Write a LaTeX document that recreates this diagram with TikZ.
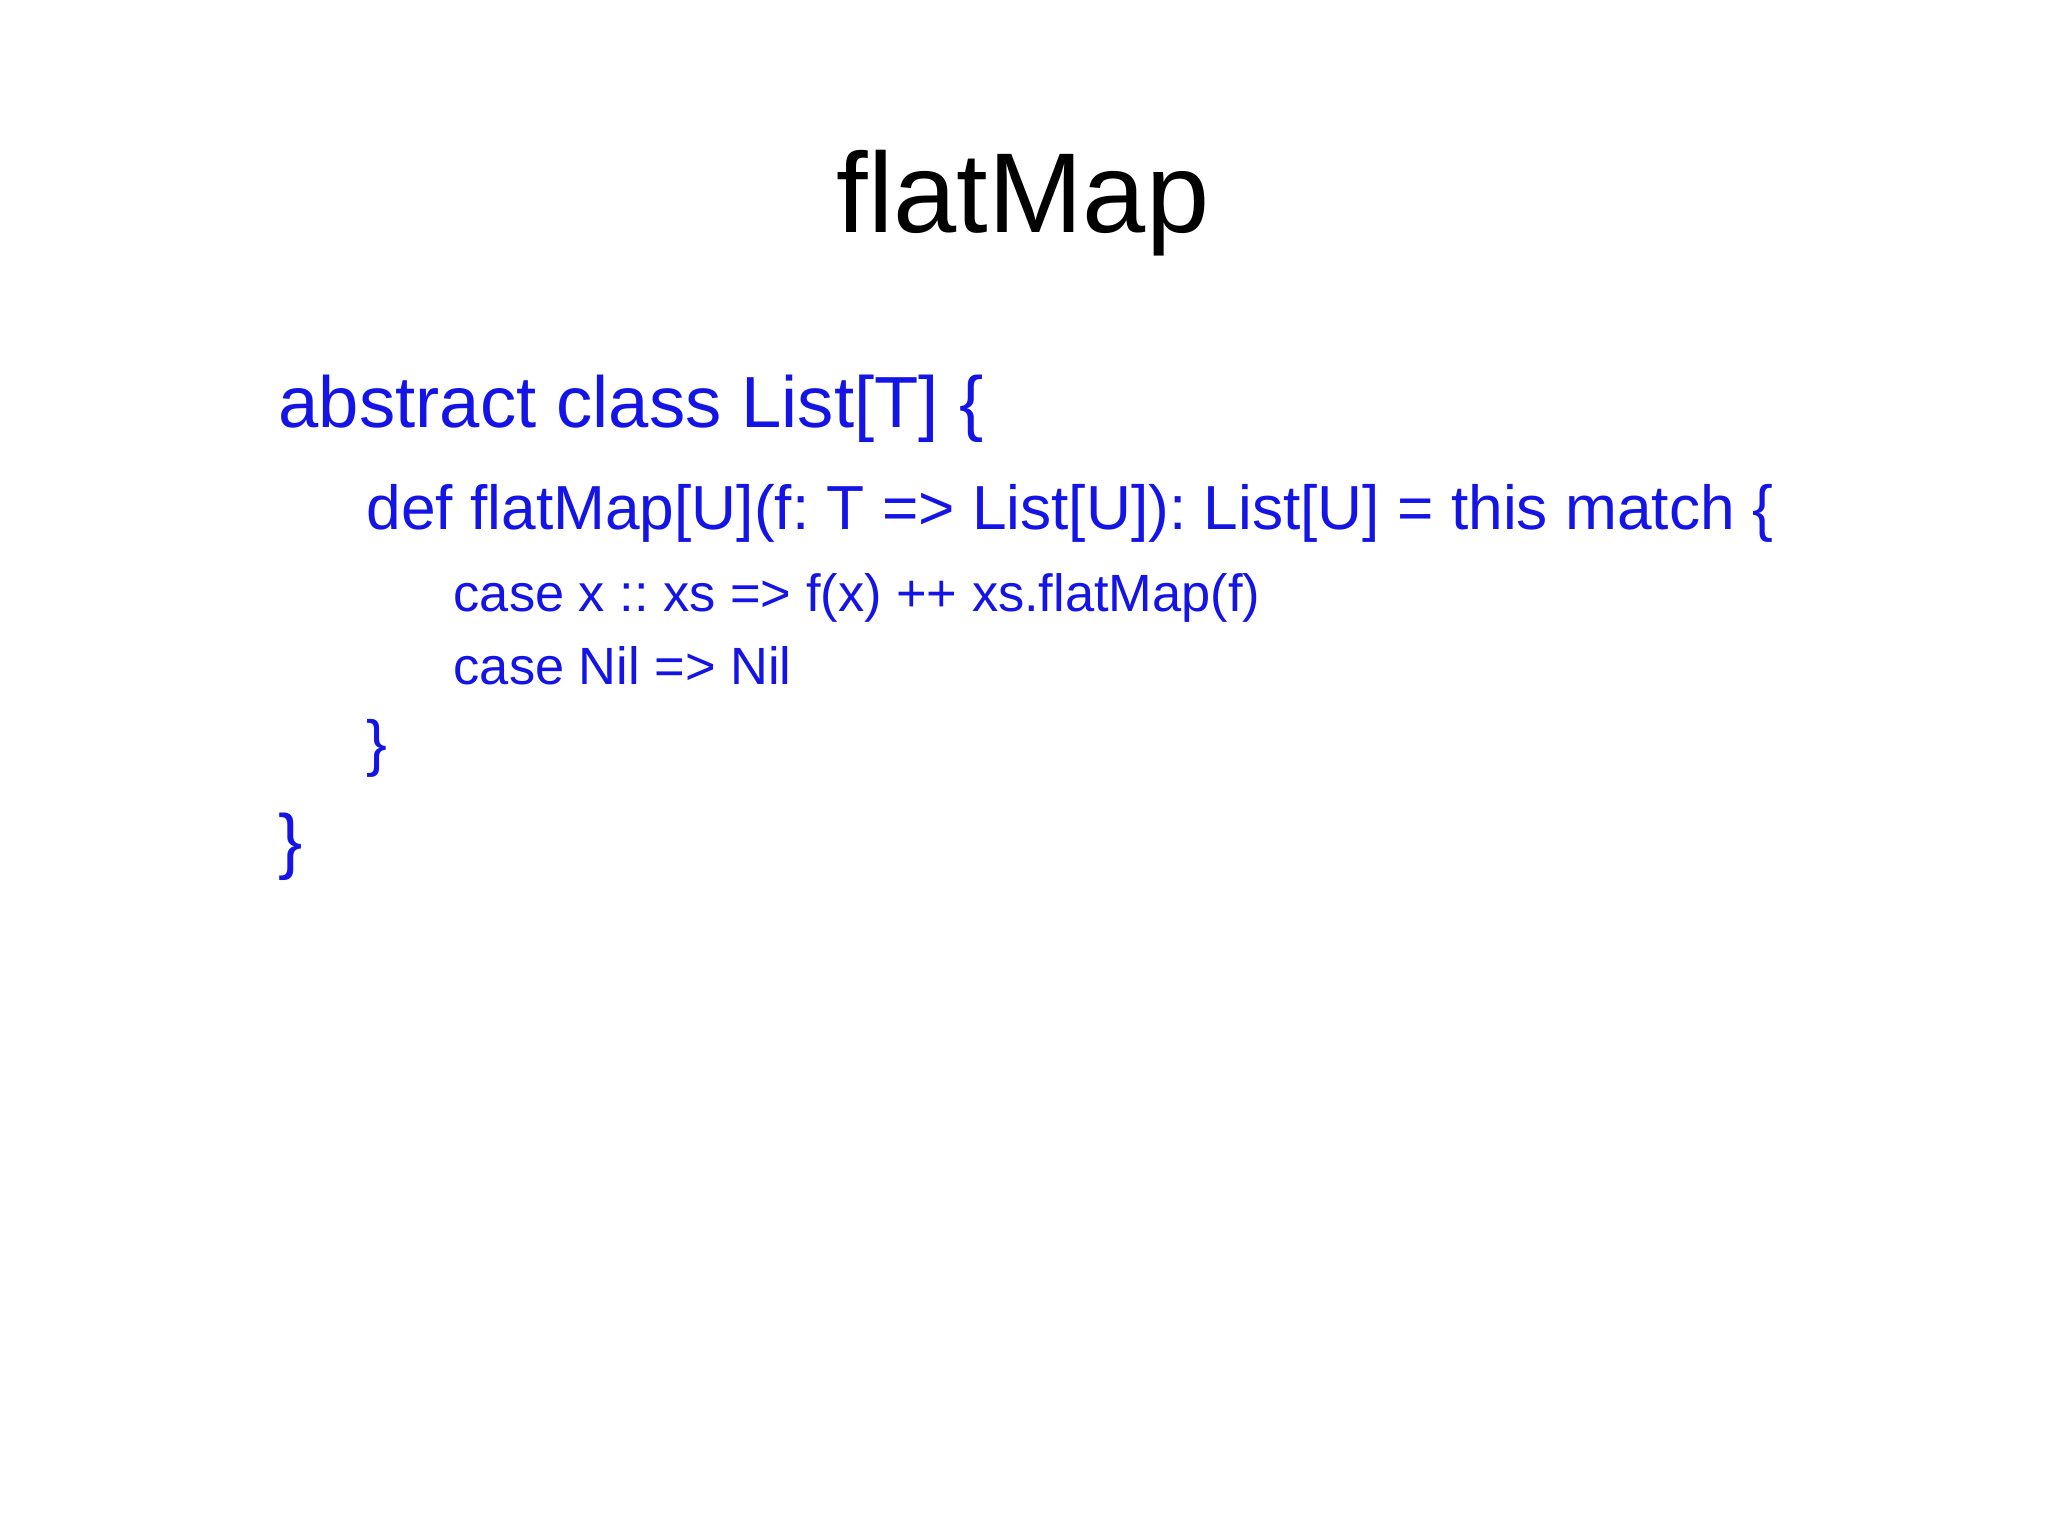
\documentclass[tikz,border=0pt]{standalone}
\usepackage{fontspec}
\setmainfont{Liberation Sans}
\frenchspacing
\definecolor{codeblue}{RGB}{20,20,230}
\begin{document}
\begin{tikzpicture}[x=0.01cm,y=-0.01cm,
  code/.style={anchor=base west,inner sep=0,text=codeblue}]
\useasboundingbox[fill=white] (0,0) rectangle (2048,1535);
\node[anchor=base,inner sep=0,font=\fontsize{32.3}{38}\selectfont] (title) at (1023,232) {flatMap};
\node[code,font=\fontsize{20.6}{25}\selectfont] (l1) at (278,427) {abstract class List[T] \{};
\node[code,font=\fontsize{17.7}{22}\selectfont] (l2) at (366,529) {def flatMap[U](f: T => List[U]): List[U] = this match \{};
\node[code,font=\fontsize{14.9}{18}\selectfont] (l3) at (453,611) {case x :: xs => f(x) ++ xs.flatMap(f)};
\node[code,font=\fontsize{14.9}{18}\selectfont] (l4) at (453,684) {case Nil => Nil};
\node[code,font=\fontsize{17.7}{22}\selectfont] (l5) at (366,764) {\}};
\node[code,font=\fontsize{20.6}{25}\selectfont] (l6) at (278,865) {\}};
\end{tikzpicture}
\end{document}
